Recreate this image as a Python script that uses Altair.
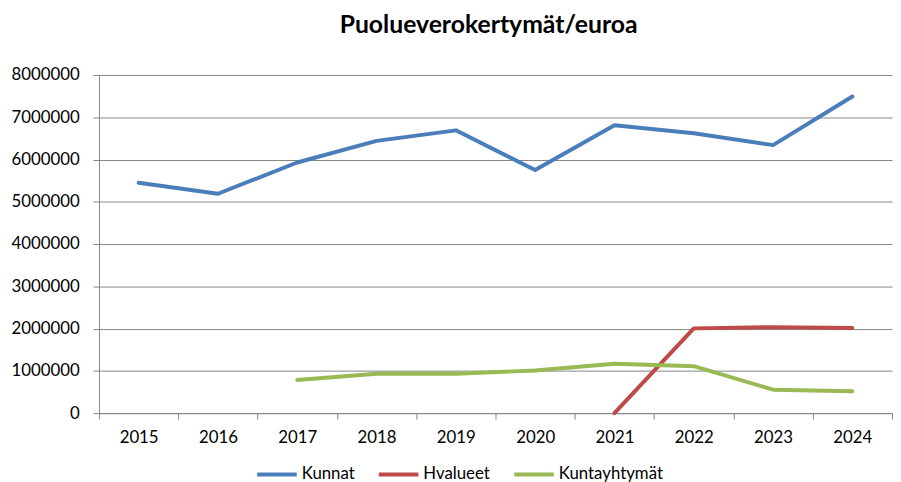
import altair as alt
import pandas as pd

years = ["2015", "2016", "2017", "2018", "2019", "2020", "2021", "2022", "2023", "2024"]
kunnat = [5450000, 5190000, 5930000, 6440000, 6690000, 5750000, 6810000, 6620000, 6340000, 7490000]
hvalueet = [None, None, None, None, None, None, 0, 2005000, 2035000, 2015000]
kuntayhtymat = [None, None, 785000, 930000, 930000, 1010000, 1170000, 1110000, 555000, 520000]

series_names = ["Kunnat", "Hvalueet", "Kuntayhtymät"]
series_colors = ["#4A7EBB", "#BE4B48", "#98B954"]

rows = []
for name, vals in zip(series_names, [kunnat, hvalueet, kuntayhtymat]):
    for y, v in zip(years, vals):
        if v is not None:
            rows.append({"Vuosi": y, "Arvo": v, "Sarja": name})
df = pd.DataFrame(rows)

FONT = "Lato"

chart = alt.Chart(df).mark_line(strokeWidth=4, strokeCap="round", strokeJoin="round").encode(
    x=alt.X("Vuosi:N", sort=years, bandPosition=0.5,
            scale=alt.Scale(type="band", domain=years, paddingInner=0, paddingOuter=0),
            axis=alt.Axis(title=None, labelAngle=0, tickBand="extent", grid=False,
                          domainColor="#868686", tickColor="#868686", tickSize=6,
                          labelFontSize=17, labelColor="#000000", labelPadding=11, labelFont=FONT)),
    y=alt.Y("Arvo:Q",
            scale=alt.Scale(domain=[0, 8000000], nice=False),
            axis=alt.Axis(title=None, values=list(range(0, 8000001, 1000000)), format="d",
                          gridColor="#868686", gridWidth=1, domainColor="#868686",
                          tickColor="#868686", tickSize=6, labelFontSize=17,
                          labelColor="#000000", labelPadding=14, labelFont=FONT)),
    color=alt.Color("Sarja:N",
                    scale=alt.Scale(domain=series_names, range=series_colors),
                    legend=alt.Legend(title=None, orient="none", direction="horizontal",
                                      legendX=158, legendY=382,
                                      symbolType="stroke", symbolStrokeWidth=4, symbolSize=1600,
                                      labelFontSize=17, labelFont=FONT, labelColor="#000000",
                                      labelOffset=3, columnPadding=16)),
).properties(
    width=802,
    height=342,
    title=alt.TitleParams("Puolueverokertymät/euroa", fontSize=25, font=FONT,
                          fontWeight="bold", color="#000000", offset=28, dx=-7),
    padding={"left": 2, "top": 3, "right": 0, "bottom": 5},
).configure_view(stroke=None)

chart.save("out.html", embed_options={"renderer": "svg", "actions": False})
